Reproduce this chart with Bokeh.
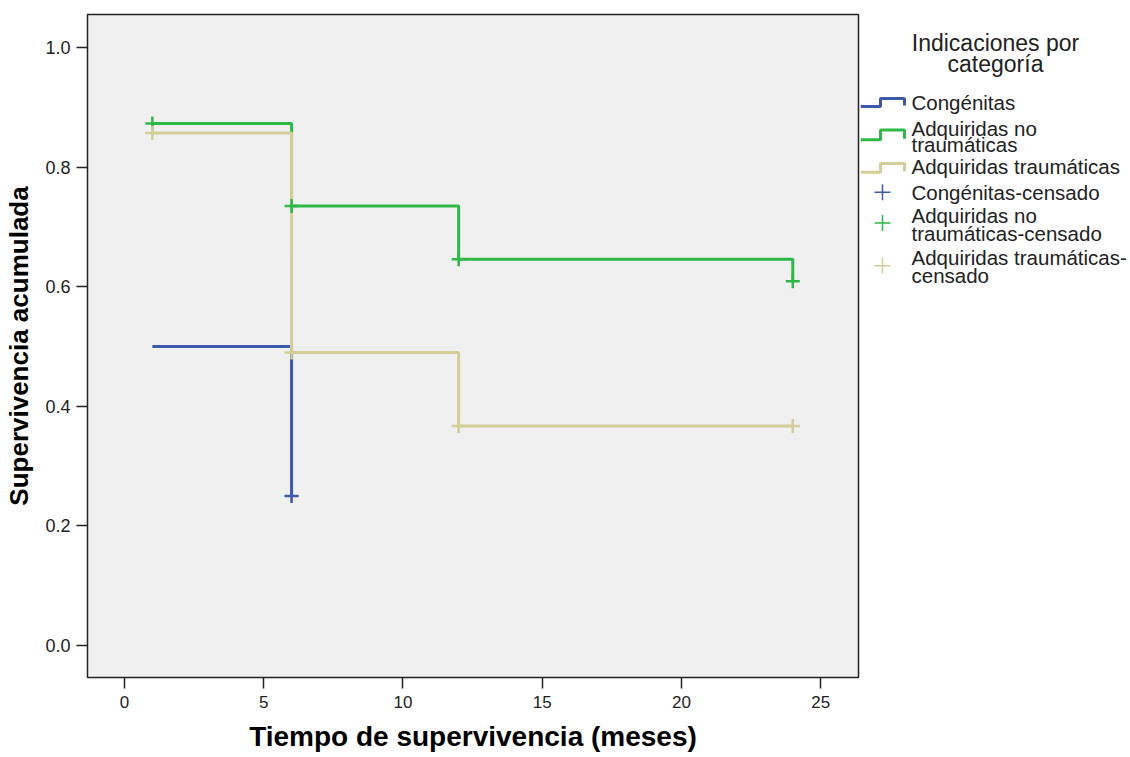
from bokeh.plotting import figure
from bokeh.models import Range1d, FixedTicker
from bokeh.layouts import row
from bokeh.core.properties import value
from bokeh.embed import file_html
from bokeh.resources import INLINE

# ---- data ----
groups = ["Congénitas", "Adquiridas no traumáticas", "Adquiridas traumáticas"]
colors = ["#3e58ac", "#2eb848", "#d3ce97"]

cong_t = [1, 6]
cong_s = [0.500, 0.250]
notr_t = [1, 6, 12, 24]
notr_s = [0.873, 0.735, 0.646, 0.609]
trau_t = [1, 6, 12, 24]
trau_s = [0.857, 0.490, 0.367, 0.367]

cong_cens_t = [6]
cong_cens_s = [0.250]
notr_cens_t = [1, 6, 12, 24]
notr_cens_s = [0.873, 0.735, 0.646, 0.609]
trau_cens_t = [1, 6, 12, 24]
trau_cens_s = [0.857, 0.490, 0.367, 0.367]

x_ticks = [0, 5, 10, 15, 20, 25]
y_ticks = [0.0, 0.2, 0.4, 0.6, 0.8, 1.0]

x_title = "Tiempo de supervivencia (meses)"
y_title = "Supervivencia acumulada"
legend_title = ["Indicaciones por", "categoría"]

FONT = "Liberation Sans"

# ---- main plot ----
p = figure(width=860, height=757, output_backend="svg", toolbar_location=None,
           x_range=Range1d(-1.329, 26.36), y_range=Range1d(-0.0535, 1.0552),
           min_border_left=87, min_border_right=2, min_border_top=14, min_border_bottom=80)
p.background_fill_color = "#f0f0f0"
p.border_fill_color = "white"
p.outline_line_color = "#222222"
p.outline_line_width = 1.5
p.grid.visible = False

for ax in (p.xaxis[0], p.yaxis[0]):
    ax.axis_line_color = None
    ax.major_tick_in = 0
    ax.major_tick_out = 11
    ax.major_tick_line_color = "#222222"
    ax.major_tick_line_width = 1.5
    ax.minor_tick_line_color = None
    ax.major_label_text_font = FONT
    ax.major_label_text_color = "#222222"
    ax.axis_label_text_font = FONT
    ax.axis_label_text_font_style = "bold"
    ax.axis_label_text_color = "black"

p.xaxis.ticker = FixedTicker(ticks=x_ticks)
p.yaxis.ticker = FixedTicker(ticks=y_ticks)
p.yaxis.major_label_overrides = {t: f"{t:.1f}" for t in y_ticks}
p.xaxis.major_label_text_font_size = "17px"
p.yaxis.major_label_text_font_size = "18px"
p.xaxis.major_label_standoff = 7
p.yaxis.major_label_standoff = 6
p.xaxis.axis_label = x_title
p.yaxis.axis_label = y_title
p.xaxis.axis_label_text_font_size = "28px"
p.yaxis.axis_label_text_font_size = "26px"
p.xaxis.axis_label_standoff = 10
p.yaxis.axis_label_standoff = 8

series = [
    (cong_t, cong_s, cong_cens_t, cong_cens_s),
    (notr_t, notr_s, notr_cens_t, notr_cens_s),
    (trau_t, trau_s, trau_cens_t, trau_cens_s),
]
for (t, s, ct, cs), c in zip(series, colors):
    p.step(x=t, y=s, mode="after", line_color=c, line_width=3)
for (t, s, ct, cs), c in zip(series, colors):
    p.scatter(x=ct, y=cs, marker="cross", size=14, line_color=c, line_width=2.5)

# ---- legend panel (pixel coordinates of the page) ----
leg = figure(width=270, height=757, output_backend="svg", toolbar_location=None,
             x_range=Range1d(860, 1130), y_range=Range1d(757, 0),
             min_border_left=0, min_border_right=0, min_border_top=0, min_border_bottom=0,
             x_axis_location=None, y_axis_location=None)
leg.outline_line_color = None
leg.grid.visible = False
leg.background_fill_color = "white"
leg.border_fill_color = "white"

leg.text(x=[995, 995], y=[33, 57], text=legend_title, text_align="center",
         text_baseline="middle", text_font=value(FONT), text_font_size="23px",
         text_color="#222222")

icon_rows = [(96, 105), (132, 143), (170, 180)]
for (top, bot), c in zip(icon_rows, colors):
    leg.line(x=[860, 880, 880, 904, 904], y=[bot, bot, top, top, bot - 1],
             line_color=c, line_width=3)

cross_rows = [203, 238, 287]
for yy, c in zip(cross_rows, colors):
    leg.scatter(x=[882], y=[yy], marker="cross", size=16, line_color=c, line_width=1.5)

label_lines = [
    ("Congénitas", 101),
    ("Adquiridas no", 130),
    ("traumáticas", 148),
    ("Adquiridas traumáticas", 174),
    ("Congénitas-censado", 203),
    ("Adquiridas no", 229),
    ("traumáticas-censado", 250),
    ("Adquiridas traumáticas-", 278),
    ("censado", 298),
]
leg.text(x=[911] * len(label_lines), y=[l[1] for l in label_lines],
         text=[l[0] for l in label_lines], text_align="left", text_baseline="middle",
         text_font=value(FONT), text_font_size="20.5px", text_color="#222222")

layout = row(p, leg, spacing=0)
open("out.html", "w").write(file_html(layout, INLINE))
